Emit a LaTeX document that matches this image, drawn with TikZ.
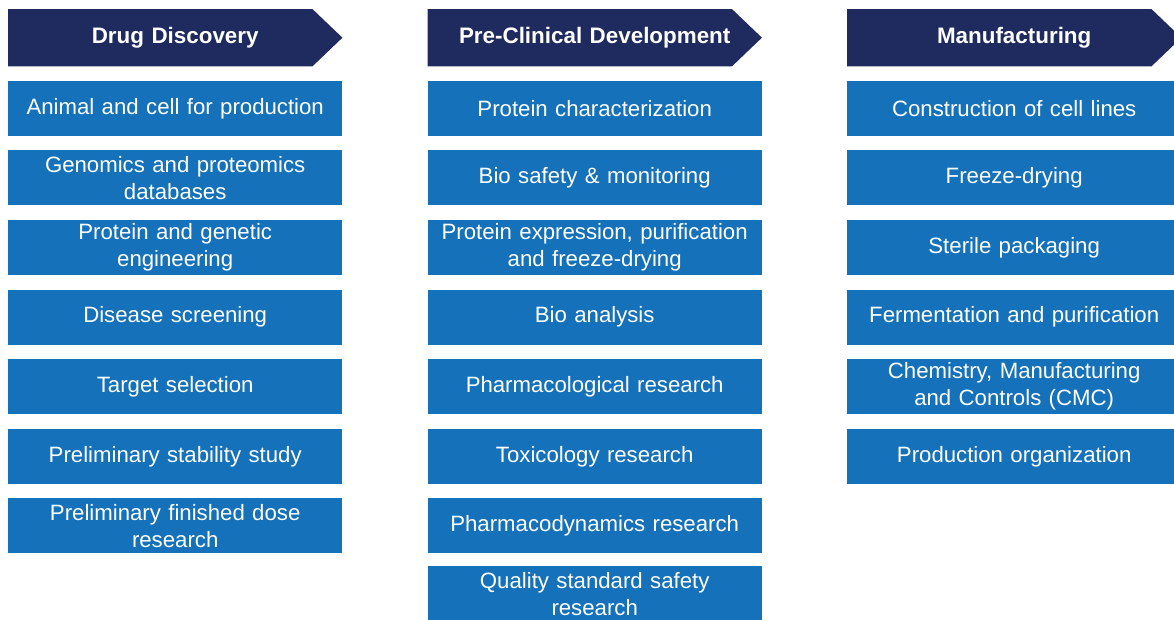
\documentclass[tikz,border=0pt]{standalone}
\usepackage{fontspec}
\setmainfont{Liberation Sans}
\usetikzlibrary{matrix,backgrounds}
\definecolor{phasenavy}{RGB}{31,42,94}
\definecolor{taskblue}{RGB}{20,113,186}

\begin{document}
\begin{tikzpicture}[x=1pt,y=1pt]
  \path[use as bounding box,clip] (0,0) rectangle (1174,-619);
  \matrix (flow) [matrix of nodes,anchor=north west,inner sep=0pt,
 column sep=85.5pt,row sep=14.6pt,
 nodes={rectangle,anchor=center,align=center,text width=330pt,
   inner xsep=2pt,inner ysep=1pt,minimum height=55pt,fill=taskblue,
   text=white,font=\fontsize{22.2}{27}\selectfont},
 row 1/.style={nodes={fill=none,minimum height=57pt,
   font=\fontsize{22.4}{27}\selectfont\bfseries}}] at (8,-9) {
   {Drug Discovery} & {Pre-Clinical Development} & {Manufacturing} \\
   {Animal and cell for production} & {Protein characterization} & {Construction of cell lines} \\
   {Genomics and proteomics\\databases} & {Bio safety \& monitoring} & {Freeze-drying} \\
   {Protein and genetic\\engineering} & {Protein expression, purification\\and freeze-drying} & {Sterile packaging} \\
   {Disease screening} & {Bio analysis} & {Fermentation and purification} \\
   {Target selection} & {Pharmacological research} & {Chemistry, Manufacturing\\and Controls (CMC)} \\
   {Preliminary stability study} & {Toxicology research} & {Production organization} \\
   {Preliminary finished dose\\research} & {Pharmacodynamics research} & \\[-1.7pt]
   & {Quality standard safety\\research} & \\
 };

  % chevron headers
  \begin{scope}[on background layer]
    \clip (0,0) rectangle (1174,-619);
    \foreach \col in {1,2,3}
      \fill[phasenavy] (flow-1-\col.north west) -- ([xshift=-30pt]flow-1-\col.north east)
        -- (flow-1-\col.east) -- ([xshift=-30pt]flow-1-\col.south east)
        -- (flow-1-\col.south west) -- cycle;
  \end{scope}

\end{tikzpicture}
\end{document}
